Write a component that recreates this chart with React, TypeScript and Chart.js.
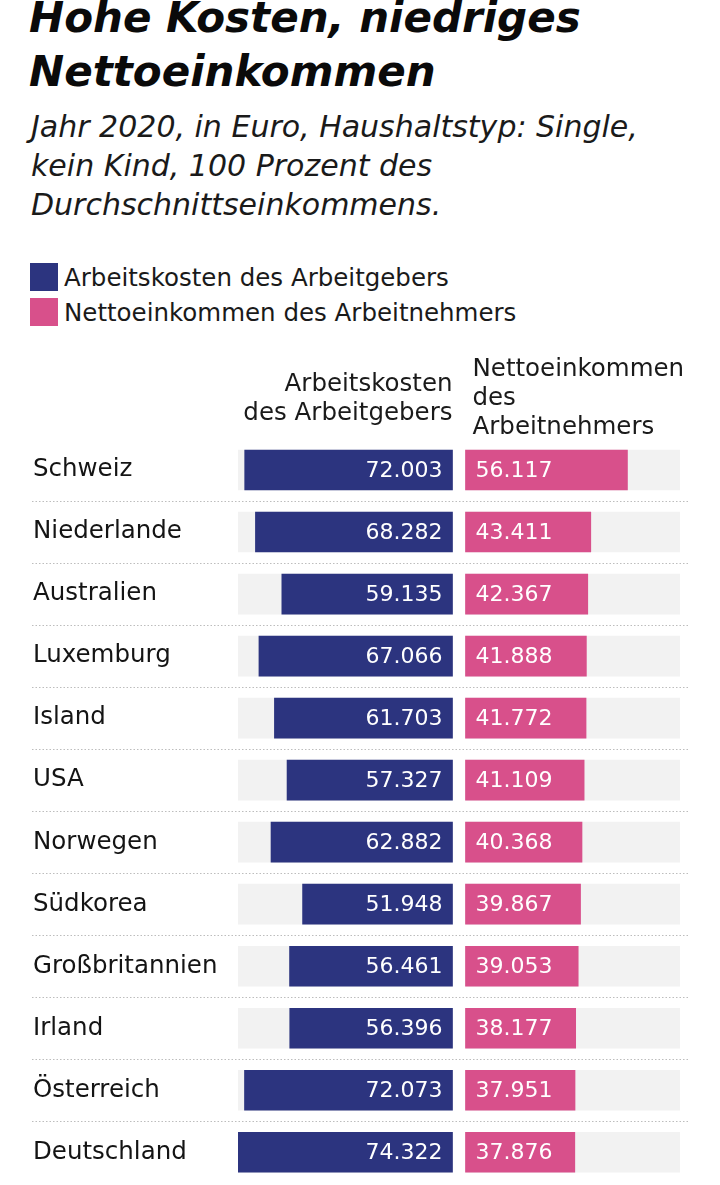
import React, { useEffect, useRef } from "react";
import { Chart, registerables } from "chart.js";

Chart.register(...registerables);

const titleLines = ["Hohe Kosten, niedriges", "Nettoeinkommen"];
const subtitleLines = [
  "Jahr 2020, in Euro, Haushaltstyp: Single,",
  "kein Kind, 100 Prozent des",
  "Durchschnittseinkommens.",
];
const seriesNames = ["Arbeitskosten des Arbeitgebers", "Nettoeinkommen des Arbeitnehmers"];
const headerLeft = ["Arbeitskosten", "des Arbeitgebers"];
const headerRight = ["Nettoeinkommen", "des", "Arbeitnehmers"];
const countries = [
  "Schweiz",
  "Niederlande",
  "Australien",
  "Luxemburg",
  "Island",
  "USA",
  "Norwegen",
  "Südkorea",
  "Großbritannien",
  "Irland",
  "Österreich",
  "Deutschland",
];
const arbeitskosten = [72003, 68282, 59135, 67066, 61703, 57327, 62882, 51948, 56461, 56396, 72073, 74322];
const nettoeinkommen = [56117, 43411, 42367, 41888, 41772, 41109, 40368, 39867, 39053, 38177, 37951, 37876];

const BLUE = "#2c347f";
const PINK = "#d8508b";
const TRACK = "#f2f2f2";
const FONT = "'DejaVu Sans', sans-serif";

const fmt = (v: number) => String(v).replace(/\B(?=(\d{3})+(?!\d))/g, ".");

export default function App() {
  const canvasRef = useRef<HTMLCanvasElement | null>(null);

  useEffect(() => {
    const canvas = canvasRef.current;
    if (!canvas) return;
    const MAX = Math.max(...arbeitskosten, ...nettoeinkommen);
    const G = MAX * 0.0303;

    const overlayPlugin = {
      id: "overlay",
      beforeDatasetsDraw(chart: any) {
        const { ctx } = chart;
        const y = chart.scales.y;
        ctx.save();
        ctx.strokeStyle = "#bdbdbd";
        ctx.lineWidth = 1;
        ctx.setLineDash([1.5, 2]);
        for (let i = 0; i < countries.length - 1; i++) {
          const yy = Math.round((y.getPixelForValue(i) + y.getPixelForValue(i + 1)) / 2) + 0.5;
          ctx.beginPath();
          ctx.moveTo(32, yy);
          ctx.lineTo(690, yy);
          ctx.stroke();
        }
        ctx.restore();
      },
      afterDatasetsDraw(chart: any) {
        const { ctx } = chart;
        const x = chart.scales.x;
        const top = chart.chartArea.top;
        ctx.save();
        // values
        ctx.fillStyle = "#ffffff";
        ctx.font = `22px ${FONT}`;
        ctx.textBaseline = "middle";
        const mL = chart.getDatasetMeta(0);
        mL.data.forEach((el: any, i: number) => {
          ctx.textAlign = "right";
          ctx.fillText(fmt(arbeitskosten[i]), Math.max(el.x, el.base) - 10, el.y + 1);
        });
        const mR = chart.getDatasetMeta(1);
        mR.data.forEach((el: any, i: number) => {
          ctx.textAlign = "left";
          ctx.fillText(fmt(nettoeinkommen[i]), Math.min(el.x, el.base) + 10, el.y + 1);
        });
        // column headers
        ctx.fillStyle = "#1a1a1a";
        ctx.font = `24.5px ${FONT}`;
        ctx.textBaseline = "alphabetic";
        ctx.textAlign = "right";
        const lx = x.getPixelForValue(-G);
        headerLeft.forEach((t, i) => ctx.fillText(t, lx, top - 48 + i * 29));
        ctx.textAlign = "left";
        const rx = x.getPixelForValue(G) + 7;
        headerRight.forEach((t, i) => ctx.fillText(t, rx, top - 63 + i * 29));
        ctx.restore();
      },
    };

    const chart = new Chart(canvas, {
      type: "bar",
      data: {
        labels: countries,
        datasets: [
          {
            label: seriesNames[0],
            data: arbeitskosten.map((v) => [-(G + v), -G]) as any,
            backgroundColor: BLUE,
            order: 1,
          },
          {
            label: seriesNames[1],
            data: nettoeinkommen.map((v) => [G, G + v]) as any,
            backgroundColor: PINK,
            order: 1,
          },
          {
            label: "trackL",
            data: countries.map(() => [-(G + MAX), -G]) as any,
            backgroundColor: TRACK,
            order: 5,
          },
          {
            label: "trackR",
            data: countries.map(() => [G, G + MAX]) as any,
            backgroundColor: TRACK,
            order: 5,
          },
        ],
      },
      options: {
        indexAxis: "y",
        animation: false,
        responsive: false,
        maintainAspectRatio: false,
        datasets: {
          bar: {
            grouped: false,
            barThickness: 40,
            borderWidth: 0,
            borderSkipped: false,
          } as any,
        },
        layout: { padding: { top: 99, bottom: 0, left: 33, right: 40 } },
        plugins: {
          legend: { display: false },
          tooltip: { enabled: false },
          title: { display: false },
        },
        scales: {
          x: {
            display: false,
            min: -(MAX + G),
            max: MAX + G,
            grid: { display: false },
          },
          y: {
            grid: { display: false, drawTicks: false },
            border: { display: false },
            ticks: {
              crossAlign: "far",
              color: "#141414",
              font: { family: FONT, size: 24.5 },
              padding: 0,
            },
            afterFit: (s: any) => {
              s.width = 205;
            },
          },
        },
      },
      plugins: [overlayPlugin],
    });
    return () => chart.destroy();
  }, []);

  return (
    <div style={{ position: "absolute", left: 0, top: 0, width: 720, height: 1185, background: "#fff", overflow: "hidden", fontFamily: FONT }}>
      <div
        style={{
          position: "absolute",
          left: 29,
          top: -9,
          fontSize: 42,
          lineHeight: "54px",
          fontWeight: "bold",
          fontStyle: "italic",
          color: "#0a0a0a",
          whiteSpace: "nowrap",
        }}
      >
        {titleLines.map((t, i) => (
          <div key={i}>{t}</div>
        ))}
      </div>
      <div
        style={{
          position: "absolute",
          left: 31,
          top: 107,
          fontSize: 30,
          lineHeight: "39px",
          fontStyle: "italic",
          color: "#1a1a1a",
          whiteSpace: "nowrap",
        }}
      >
        {subtitleLines.map((t, i) => (
          <div key={i}>{t}</div>
        ))}
      </div>
      {seriesNames.map((name, i) => (
        <div key={i} style={{ position: "absolute", left: 30, top: 263 + i * 35, height: 28, display: "flex", alignItems: "center" }}>
          <div style={{ width: 28, height: 28, background: i === 0 ? BLUE : PINK }} />
          <div style={{ marginLeft: 6, fontSize: 24.5, color: "#1a1a1a", whiteSpace: "nowrap" }}>{name}</div>
        </div>
      ))}
      <canvas ref={canvasRef} width={720} height={858} style={{ position: "absolute", left: 0, top: 340, width: 720, height: 858 }} />
    </div>
  );
}
